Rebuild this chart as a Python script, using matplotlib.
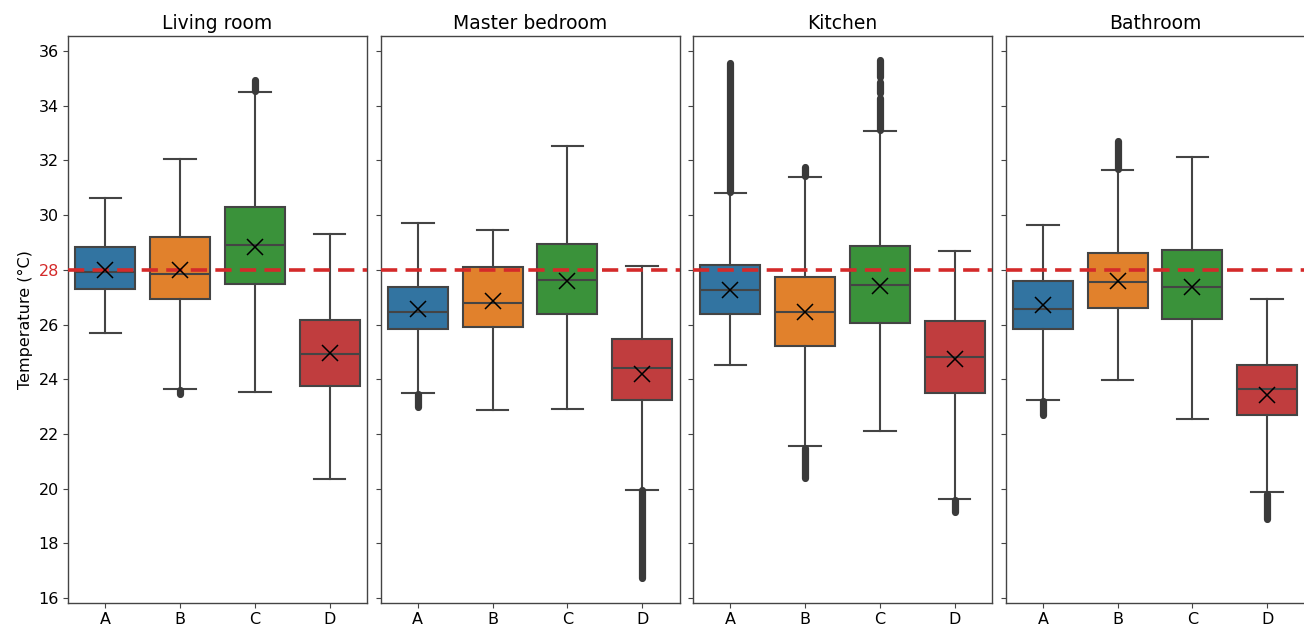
import matplotlib
matplotlib.use("Agg")
import matplotlib.pyplot as plt
import numpy as np

rooms = ["Living room", "Master bedroom", "Kitchen", "Bathroom"]
groups = ["A", "B", "C", "D"]
threshold = 28

# box statistics, one row per room, one column per group (A-D)
whislo = [[25.70, 23.65, 23.55, 20.35],
          [23.50, 22.88, 22.92, 19.95],
          [24.51, 21.55, 22.11, 19.62],
          [23.25, 23.99, 22.54, 19.86]]
q1 = [[27.30, 26.95, 27.47, 23.75],
      [25.85, 25.90, 26.38, 23.25],
      [26.38, 25.23, 26.06, 23.50],
      [25.85, 26.61, 26.22, 22.70]]
med = [[27.93, 27.86, 28.90, 24.93],
       [26.47, 26.77, 27.63, 24.42],
       [27.25, 26.47, 27.43, 24.80],
       [26.56, 27.54, 27.39, 23.66]]
q3 = [[28.83, 29.20, 30.30, 26.18],
      [27.38, 28.12, 28.93, 25.47],
      [28.17, 27.73, 28.88, 26.13],
      [27.58, 28.63, 28.72, 24.51]]
whishi = [[30.62, 32.07, 34.50, 29.30],
          [29.70, 29.45, 32.52, 28.15],
          [30.80, 31.38, 33.06, 28.69],
          [29.64, 31.65, 32.14, 26.95]]
means = [[28.00, 28.00, 28.85, 24.95],
         [26.58, 26.87, 27.60, 24.20],
         [27.27, 26.45, 27.41, 24.75],
         [26.70, 27.58, 27.36, 23.44]]

# runs of outliers (low, high) per room and group
outlier_runs = [
    [[], [(23.45, 23.60)], [(34.55, 34.95)], []],
    [[(23.00, 23.45)], [], [], [(16.75, 19.95)]],
    [[(30.85, 35.58)], [(20.40, 21.50), (31.42, 31.75)],
     [(33.10, 34.30), (34.45, 34.85), (35.05, 35.66)], [(19.15, 19.58)]],
    [[(22.68, 23.20)], [(31.70, 32.70)], [], [(18.88, 19.82)]],
]

colors = ["#3274a1", "#e1812c", "#3a923a", "#c03d3e"]
line_col = "#444444"

fig = plt.figure(figsize=(13.04, 6.3), dpi=100)
ax_w = 299 / 1304
ax_gap = 13.5 / 1304
left0 = 68 / 1304
bottom = 27 / 630
height = (603 - 36) / 630

axes = []
for r, room in enumerate(rooms):
    ax = fig.add_axes([left0 + r * (ax_w + ax_gap), bottom, ax_w, height])
    axes.append(ax)
    stats = []
    for g in range(len(groups)):
        stats.append(dict(med=med[r][g], q1=q1[r][g], q3=q3[r][g],
                          whislo=whislo[r][g], whishi=whishi[r][g],
                          mean=means[r][g], fliers=[]))
    pos = np.arange(len(groups))
    bp = ax.bxp(stats, positions=pos, widths=0.8, capwidths=0.42,
                patch_artist=True, showmeans=True, showfliers=False,
                boxprops=dict(edgecolor=line_col, linewidth=1.5),
                whiskerprops=dict(color=line_col, linewidth=1.5),
                capprops=dict(color=line_col, linewidth=1.5),
                medianprops=dict(color=line_col, linewidth=1.5),
                meanprops=dict(marker="x", markeredgecolor="black",
                               markerfacecolor="black", markersize=11,
                               markeredgewidth=1.1))
    for patch, c in zip(bp["boxes"], colors):
        patch.set_facecolor(c)
    for m in bp["means"]:
        m.set_zorder(5)
    for g in range(len(groups)):
        for lo, hi in outlier_runs[r][g]:
            ax.vlines(pos[g], lo, hi, color="#3a3a3a", linewidth=5.2,
                      capstyle="round", zorder=3)

    ax.axhline(threshold, color="#d42a2a", linewidth=2.6,
               linestyle=(0, (4.5, 2.3)), zorder=4)
    ax.set_xlim(-0.5, 3.5)
    ax.set_ylim(15.82, 36.55)
    ax.set_yticks(np.arange(16, 37, 2))
    ax.set_xticks(pos)
    ax.set_xticklabels(groups, fontsize=11.5)
    ax.set_title(room, fontsize=13.5, pad=5)
    ax.tick_params(axis="both", length=3.5, color="#444444", labelsize=11.5, pad=3)
    for sp in ax.spines.values():
        sp.set_color("#444444")
        sp.set_linewidth(1.0)
    if r > 0:
        ax.set_yticklabels([])

axes[0].set_ylabel("Temperature (°C)", fontsize=11.5, labelpad=4)
for lab in axes[0].get_yticklabels():
    if lab.get_text() == str(threshold):
        lab.set_color("#d42a2a")

fig.savefig("out.png", dpi=100)
